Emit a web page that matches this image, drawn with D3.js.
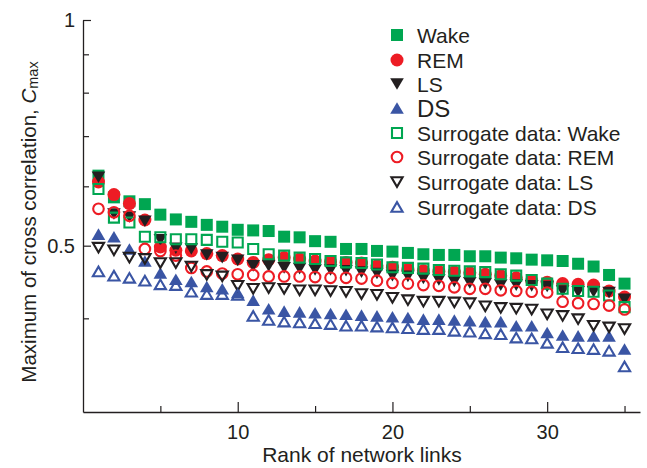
<!DOCTYPE html>
<html><head><meta charset="utf-8">
<script src="https://cdn.jsdelivr.net/npm/d3@7"></script>
<style>
body{margin:0;background:#fff;}
svg{display:block;font-family:"Liberation Sans",Arial,Helvetica,sans-serif;}
</style>
</head><body>
<svg id="c" width="647" height="468"></svg>
<script>
// ---- data ----
const ranks = [1,2,3,4,5,6,7,8,9,10,11,12,13,14,15,16,17,18,19,20,21,22,23,24,25,26,27,28,29,30,31,32,33,34,35];
const wake   = [0.620,0.580,0.573,0.568,0.550,0.542,0.538,0.533,0.530,0.525,0.524,0.523,0.514,0.513,0.507,0.506,0.495,0.495,0.492,0.491,0.489,0.487,0.486,0.486,0.484,0.484,0.482,0.481,0.479,0.478,0.477,0.473,0.469,0.457,0.445];
const rem    = [0.608,0.585,0.569,0.541,0.498,0.493,0.492,0.488,0.485,0.480,0.475,0.479,0.482,0.480,0.477,0.476,0.475,0.474,0.470,0.468,0.465,0.463,0.462,0.461,0.460,0.458,0.456,0.453,0.449,0.447,0.445,0.444,0.443,0.435,0.427];
const ls     = [0.617,0.551,0.546,0.539,0.509,0.496,0.495,0.486,0.482,0.478,0.470,0.470,0.467,0.466,0.464,0.464,0.463,0.461,0.459,0.456,0.455,0.452,0.450,0.448,0.446,0.445,0.443,0.443,0.442,0.441,0.435,0.434,0.434,0.433,0.424];
const ds     = [0.518,0.514,0.495,0.477,0.460,0.451,0.448,0.441,0.438,0.433,0.423,0.412,0.409,0.408,0.407,0.406,0.405,0.404,0.403,0.402,0.401,0.399,0.399,0.398,0.397,0.396,0.396,0.391,0.391,0.383,0.380,0.379,0.379,0.379,0.364];
const wakeS  = [0.595,0.545,0.537,0.514,0.513,0.510,0.510,0.509,0.506,0.505,0.495,0.487,0.485,0.482,0.480,0.477,0.475,0.474,0.472,0.468,0.467,0.466,0.464,0.463,0.462,0.461,0.458,0.456,0.450,0.445,0.438,0.435,0.434,0.429,0.414];
const remS   = [0.560,0.554,0.548,0.495,0.492,0.485,0.467,0.462,0.459,0.458,0.457,0.455,0.455,0.455,0.454,0.453,0.453,0.452,0.449,0.446,0.445,0.443,0.442,0.440,0.438,0.438,0.436,0.435,0.434,0.433,0.421,0.419,0.418,0.416,0.411];
const lsS    = [0.497,0.493,0.482,0.480,0.474,0.474,0.469,0.457,0.455,0.442,0.438,0.439,0.438,0.436,0.436,0.435,0.434,0.431,0.430,0.426,0.423,0.421,0.421,0.420,0.419,0.415,0.413,0.412,0.411,0.405,0.403,0.399,0.391,0.389,0.387];
const dsS    = [0.462,0.456,0.453,0.449,0.444,0.443,0.434,0.431,0.431,0.430,0.403,0.398,0.396,0.395,0.394,0.393,0.391,0.391,0.390,0.389,0.388,0.387,0.387,0.385,0.384,0.382,0.381,0.377,0.376,0.371,0.366,0.365,0.364,0.362,0.345];
const xMajorTicks = [10,20,30];
const xMinorTicks = [5,15,25,35];
const yMajorTicks = [0.5,1];
const yMinorTicks = [0.4,0.6,0.7,0.8,0.9];
const yTickLabels = ["0.5","1"];
const seriesNames = ["Wake","REM","LS","DS","Surrogate data: Wake","Surrogate data: REM","Surrogate data: LS","Surrogate data: DS"];

// ---- styling ----
const GREEN="#00a651", RED="#ed1c24", BLACK="#231f20", BLUE="#3a55a4", INK="#231f20";
const series = [
  {name:seriesNames[0], vals:wake,  shape:"square", filled:true,  color:GREEN},
  {name:seriesNames[1], vals:rem,   shape:"circle", filled:true,  color:RED},
  {name:seriesNames[2], vals:ls,    shape:"down",   filled:true,  color:BLACK},
  {name:seriesNames[3], vals:ds,    shape:"up",     filled:true,  color:BLUE},
  {name:seriesNames[4], vals:wakeS, shape:"square", filled:false, color:GREEN},
  {name:seriesNames[5], vals:remS,  shape:"circle", filled:false, color:RED},
  {name:seriesNames[6], vals:lsS,   shape:"down",   filled:false, color:BLACK},
  {name:seriesNames[7], vals:dsS,   shape:"up",     filled:false, color:BLUE}
];

function shapePath(shape, filled){
  if(shape==="square"){ const s = filled?6:5; return `M${-s},${-s}H${s}V${s}H${-s}Z`; }
  if(shape==="circle"){ const r = filled?6.5:5.3; return `M${r},0A${r},${r} 0 1,1 ${-r},0A${r},${r} 0 1,1 ${r},0Z`; }
  const w = filled?6.8:5.6, h = filled?5.8:4.8;
  if(shape==="down") return `M${-w},${-h}H${w}L0,${h}Z`;
  return `M${-w},${h}H${w}L0,${-h}Z`;
}

const svg = d3.select("#c");
const x = d3.scaleLinear().domain([0,36]).range([83,640]);
const y = d3.scaleLog().domain([0.3,1]).range([412,20]);

// ---- axes ----
function styleAxis(g){
  g.selectAll("path.domain").attr("stroke",INK).attr("stroke-width",1.3);
  g.selectAll(".tick line").attr("stroke",INK).attr("stroke-width",1.2);
  g.selectAll(".tick text").attr("fill",INK).style("font-size","20px").style("font-family",'"Liberation Sans",Arial,sans-serif');
}
const gx = svg.append("g").attr("transform","translate(0,412)")
  .call(d3.axisBottom(x).tickValues(xMajorTicks).tickSizeInner(-10).tickSizeOuter(0).tickPadding(13).tickFormat(d3.format("d")));
styleAxis(gx);
const gx2 = svg.append("g").attr("transform","translate(0,412)")
  .call(d3.axisBottom(x).tickValues(xMinorTicks).tickSizeInner(-6).tickSizeOuter(0).tickFormat(""));
gx2.select("path.domain").remove(); styleAxis(gx2);

const gy = svg.append("g").attr("transform","translate(83,0)")
  .call(d3.axisLeft(y).tickValues(yMajorTicks).tickSizeInner(-8).tickSizeOuter(0).tickPadding(8)
    .tickFormat((d,i)=>yTickLabels[i]));
styleAxis(gy);
const gy2 = svg.append("g").attr("transform","translate(83,0)")
  .call(d3.axisLeft(y).tickValues(yMinorTicks).tickSizeInner(-6).tickSizeOuter(0).tickFormat(""));
gy2.select("path.domain").remove(); styleAxis(gy2);

// ---- titles ----
svg.append("text").attr("x",362).attr("y",462).attr("text-anchor","middle")
  .attr("fill",INK).style("font-size","21px").text("Rank of network links");
const yt = svg.append("text").attr("transform","translate(36,222) rotate(-90)")
  .attr("text-anchor","middle").attr("fill",INK).style("font-size","20.5px");
yt.append("tspan").text("Maximum of cross correlation, ");
yt.append("tspan").style("font-style","italic").text("C");
yt.append("tspan").style("font-size","14.5px").attr("dy",2).text("max");

// ---- markers ----
const plot = svg.append("g");
series.forEach(s=>{
  plot.append("g").selectAll("path").data(ranks.map((r,i)=>({r, v:s.vals[i]})))
    .join("path")
    .attr("transform",d=>`translate(${x(d.r)},${y(d.v)})`)
    .attr("d",shapePath(s.shape,s.filled))
    .attr("fill",s.filled?s.color:"none")
    .attr("stroke",s.filled?"none":s.color)
    .attr("stroke-width",s.filled?0:2.1);
});

// ---- legend ----
const lg = svg.append("g");
const legY = [35,60,84,108,133,157,182,207];
series.forEach((s,i)=>{
  const g = lg.append("g").attr("transform",`translate(397,${legY[i]})`);
  g.append("path").attr("d",shapePath(s.shape,s.filled))
    .attr("fill",s.filled?s.color:"none").attr("stroke",s.filled?"none":s.color).attr("stroke-width",s.filled?0:2.1);
  g.append("text").attr("x",20).attr("dy","0.36em").attr("fill",INK)
    .style("font-size", s.name==="DS"?"24px":"21px").text(s.name);
});
</script>
</body></html>
